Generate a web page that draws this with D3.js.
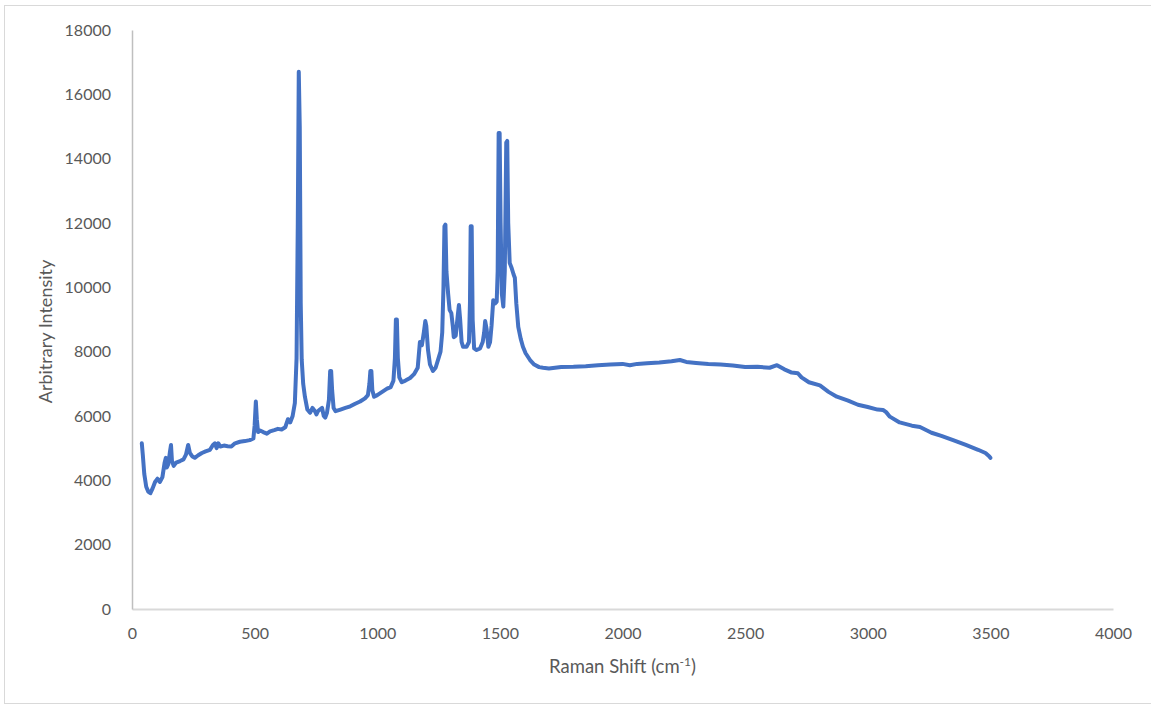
<!DOCTYPE html>
<html>
<head>
<meta charset="utf-8">
<script src="https://cdn.jsdelivr.net/npm/d3@7"></script>
<style>
  html, body { margin: 0; padding: 0; background: #fff; }
  svg { display: block; }
  text { font-family: Lato, "Open Sans", sans-serif; fill: #595959; }
</style>
</head>
<body>
<svg id="chart" width="1151" height="705"></svg>
<script>
// Raman spectrum: shift (cm-1) and measured intensity
const ramanShift = [
  40, 44, 50, 58, 66, 75, 84, 94, 104, 114, 124, 133, 138, 142, 148, 155, 159, 163, 170, 180,
  196, 210, 220, 229, 236, 245, 256, 270, 285, 300, 318, 330, 338, 345, 352, 360, 375, 390, 405, 420,
  440, 460, 480, 495, 500, 505, 509, 514, 522, 535, 550, 563, 580, 595, 610, 625, 636, 645, 655, 664,
  671, 676, 680, 684, 688, 692, 698, 705, 715, 726, 736, 746, 752, 758, 766, 775, 782, 788, 795, 803,
  808, 812, 816, 822, 830, 850, 870, 890, 910, 930, 950, 962, 968, 972, 976, 980, 987, 1000, 1020, 1040,
  1055, 1066, 1072, 1076, 1080, 1084, 1090, 1100, 1115, 1134, 1150, 1165, 1174, 1182, 1190, 1196, 1200, 1207, 1215, 1227,
  1238, 1250, 1258, 1265, 1270, 1274, 1278, 1282, 1289, 1295, 1302, 1308, 1312, 1320, 1328, 1333, 1338, 1344, 1350, 1364,
  1374, 1378, 1381, 1385, 1389, 1395, 1405, 1419, 1430, 1436, 1440, 1446, 1453, 1460, 1466, 1473, 1480, 1487, 1491, 1495,
  1499, 1503, 1508, 1514, 1520, 1526, 1530, 1534, 1540, 1548, 1556, 1561, 1567, 1575, 1585, 1594, 1605, 1623, 1640, 1660,
  1676, 1700, 1750, 1800, 1850, 1900, 1950, 2000, 2030, 2060, 2100, 2150, 2200, 2234, 2260, 2300, 2350, 2400, 2450, 2500,
  2550, 2600, 2630, 2660, 2690, 2715, 2730, 2760, 2805, 2840, 2874, 2920, 2960, 3000, 3040, 3062, 3075, 3090, 3130, 3180,
  3213, 3260, 3300, 3348, 3400, 3450, 3480, 3495, 3500
];
const intensity = [
  5150, 4800, 4200, 3800, 3650, 3600, 3750, 3950, 4050, 3950, 4100, 4550, 4700, 4400, 4500, 4900, 5100, 4600, 4450, 4550,
  4600, 4650, 4800, 5100, 4850, 4750, 4700, 4780, 4850, 4900, 4950, 5100, 5150, 5000, 5150, 5050, 5080, 5060, 5050, 5150,
  5200, 5220, 5250, 5300, 5700, 6450, 5900, 5500, 5550, 5500, 5450, 5520, 5560, 5600, 5580, 5650, 5900, 5800, 6000, 6400,
  7800, 12000, 16700, 15000, 9500, 7750, 7000, 6600, 6200, 6100, 6250, 6150, 6050, 6150, 6200, 6250, 6000, 5950, 6100, 6500,
  7400, 7400, 6800, 6250, 6150, 6200, 6250, 6300, 6380, 6450, 6550, 6650, 7000, 7400, 7400, 6800, 6600, 6650, 6750, 6850,
  6900, 7100, 7800, 9000, 9000, 7800, 7200, 7050, 7100, 7180, 7300, 7500, 8300, 8200, 8600, 8950, 8800, 8050, 7600, 7400,
  7500, 7800, 8000, 8600, 10000, 11900, 11950, 10500, 9800, 9300, 9200, 8800, 8450, 8500, 9100, 9450, 9000, 8300, 8150, 8150,
  8300, 9500, 11900, 11900, 9000, 8100, 8050, 8100, 8300, 8600, 8950, 8700, 8150, 8300, 8800, 9600, 9500, 9550, 10500, 14800,
  14800, 12000, 9800, 9400, 10500, 14500, 14550, 12000, 10760, 10600, 10400, 10300, 9500, 8770, 8400, 8150, 7950, 7740, 7600, 7520,
  7500, 7480, 7520, 7530, 7550, 7580, 7600, 7620, 7580, 7620, 7640, 7660, 7700, 7740, 7680, 7650, 7620, 7600, 7570, 7520,
  7530, 7500, 7580, 7450, 7350, 7330, 7200, 7050, 6950, 6750, 6600, 6480, 6350, 6280, 6200, 6190, 6120, 5980, 5800, 5700,
  5660, 5480, 5380, 5250, 5100, 4950, 4850, 4750, 4700
];
const xTicks = [0, 500, 1000, 1500, 2000, 2500, 3000, 3500, 4000];
const yTicks = [0, 2000, 4000, 6000, 8000, 10000, 12000, 14000, 16000, 18000];

const svg = d3.select("#chart");
const W = 1151, H = 705;
const plot = { left: 132, right: 1113, top: 30, bottom: 609 };

// chart area frame
svg.append("rect")
  .attr("x", 4.5).attr("y", 5.5)
  .attr("width", W + 10).attr("height", 698)
  .attr("fill", "#fff").attr("stroke", "#d9d9d9").attr("stroke-width", 1);

const x = d3.scaleLinear().domain([0, 4000]).range([plot.left, plot.right]);
const y = d3.scaleLinear().domain([0, 18000]).range([plot.bottom, plot.top]);

// x axis
const xAxis = svg.append("g")
  .attr("transform", `translate(0,${plot.bottom})`)
  .call(d3.axisBottom(x).tickValues(xTicks).tickSize(0).tickPadding(19).tickFormat(d3.format("d")));
xAxis.select(".domain").attr("stroke", "#d9d9d9").attr("stroke-width", 2);
xAxis.selectAll("text").style("font-size", "16px").attr("fill", "#595959");

// y axis
const yAxis = svg.append("g")
  .attr("transform", `translate(${plot.left},0)`)
  .call(d3.axisLeft(y).tickValues(yTicks).tickSize(0).tickPadding(21).tickFormat(d3.format("d")));
yAxis.select(".domain").attr("stroke", "#bfbfbf").attr("stroke-width", 1.5);
yAxis.selectAll("text").style("font-size", "16px").attr("fill", "#595959");

// spectrum trace
const pts = ramanShift.map((s, i) => [s, intensity[i]]);
svg.append("path")
  .datum(pts)
  .attr("fill", "none")
  .attr("stroke", "#4472C4")
  .attr("stroke-width", 4)
  .attr("stroke-linejoin", "round")
  .attr("stroke-linecap", "round")
  .attr("d", d3.line().x(d => x(d[0])).y(d => y(d[1])));

// axis titles
const xt = svg.append("text")
  .attr("x", (plot.left + plot.right) / 2)
  .attr("y", 673)
  .attr("text-anchor", "middle")
  .style("font-size", "18.5px");
xt.append("tspan").text("Raman Shift (cm");
xt.append("tspan").attr("dy", -7).style("font-size", "12px").text("-1");
xt.append("tspan").attr("dy", 7).text(")");

svg.append("text")
  .attr("transform", `translate(52,${(plot.top + plot.bottom) / 2 + 12}) rotate(-90)`)
  .attr("text-anchor", "middle")
  .style("font-size", "18px")
  .text("Arbitrary Intensity");
</script>
</body>
</html>
